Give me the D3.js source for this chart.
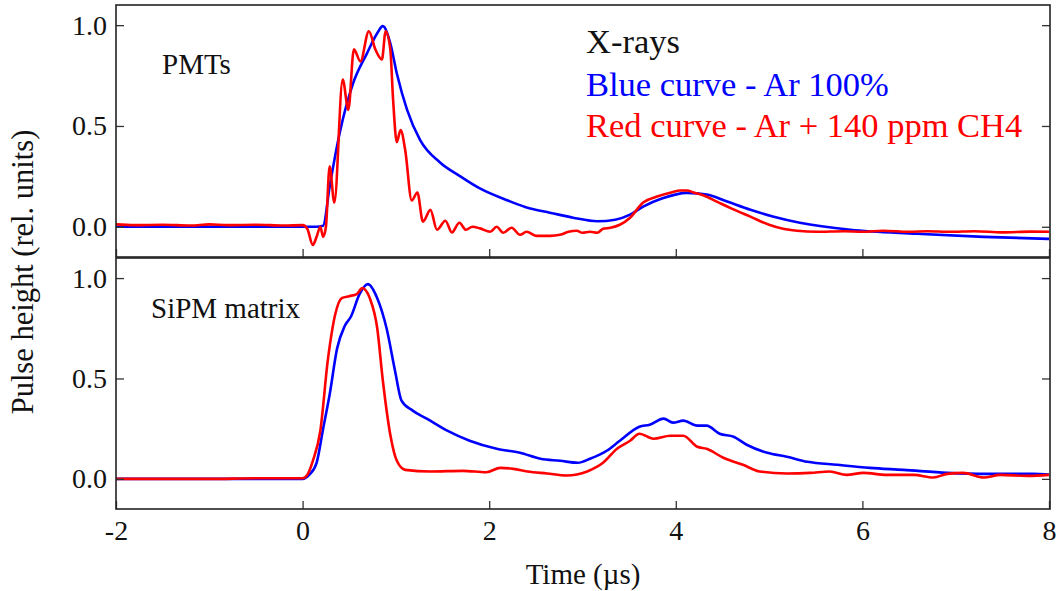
<!DOCTYPE html>
<html>
<head>
<meta charset="utf-8">
<script src="https://cdn.jsdelivr.net/npm/d3@7"></script>
</head>
<body style="margin:0;background:#fff">
<svg id="chart" width="1058" height="591"></svg>
<script>
// Pulse shapes, time in µs, height in relative units
const pmtBlue = [
  [-2,0],[-1,0],[0,0],[0.15,0],[0.22,0.005],[0.29,0.2],[0.40,0.47],[0.54,0.71],[0.69,0.86],
  [0.80,0.96],[0.86,0.995],[0.94,0.91],[1.01,0.76],[1.12,0.58],[1.26,0.43],[1.47,0.32],
  [1.69,0.25],[1.90,0.19],[2.2,0.13],[2.44,0.09],[2.65,0.07],[2.9,0.045],[3.16,0.027],
  [3.35,0.035],[3.51,0.06],[3.65,0.1],[3.85,0.14],[4.12,0.168],[4.33,0.16],[4.55,0.125],
  [4.8,0.084],[5.05,0.05],[5.33,0.02],[5.87,-0.015],[6.58,-0.035],[7.3,-0.05],[8,-0.06]
];
const pmtRed = [
  [-2,0.012],[-1.8,0.008],[-1.5,0.01],[-1.2,0.006],[-1,0.012],[-0.8,0.008],[-0.5,0.01],
  [-0.2,0.006],[0.0,0.008],[0.05,-0.01],[0.11,-0.09],[0.15,-0.05],[0.19,0.0],[0.22,-0.05],
  [0.25,0.0],[0.29,0.30],[0.34,0.12],[0.43,0.73],[0.49,0.58],[0.55,0.88],[0.62,0.82],
  [0.71,0.97],[0.78,0.88],[0.85,0.83],[0.89,0.97],[0.94,0.88],[0.97,0.63],[1.01,0.42],
  [1.05,0.48],[1.10,0.38],[1.17,0.13],[1.23,0.17],[1.29,0.025],[1.37,0.084],[1.44,-0.015],
  [1.53,0.03],[1.60,-0.028],[1.68,0.02],[1.75,-0.015],[1.82,0.0],[1.9,-0.008],[2.01,-0.025],
  [2.08,0.0],[2.15,-0.03],[2.24,-0.005],[2.33,-0.04],[2.40,-0.025],[2.51,-0.045],[2.65,-0.045],
  [2.76,-0.04],[2.85,-0.025],[2.94,-0.02],[3.0,-0.03],[3.08,-0.025],[3.16,-0.03],[3.22,-0.01],
  [3.3,-0.005],[3.4,0.01],[3.51,0.045],[3.65,0.12],[3.8,0.15],[3.95,0.17],[4.05,0.18],
  [4.12,0.18],[4.19,0.17],[4.3,0.155],[4.44,0.125],[4.6,0.09],[4.8,0.05],[5.0,0.01],
  [5.15,-0.01],[5.3,-0.02],[5.51,-0.025],[5.8,-0.022],[6.0,-0.025],[6.22,-0.02],[6.5,-0.025],
  [6.7,-0.022],[6.94,-0.025],[7.2,-0.022],[7.5,-0.028],[7.8,-0.024],[8.0,-0.025]
];
const sipmBlue = [
  [-2,0],[-1,0],[0,0],[0.07,0.02],[0.15,0.08],[0.22,0.25],[0.29,0.42],[0.37,0.65],[0.45,0.76],
  [0.52,0.81],[0.61,0.92],[0.70,0.97],[0.80,0.90],[0.90,0.75],[0.99,0.54],[1.06,0.39],
  [1.18,0.34],[1.33,0.30],[1.55,0.24],[1.79,0.19],[2.08,0.15],[2.33,0.13],[2.55,0.10],
  [2.76,0.09],[2.95,0.08],[3.08,0.10],[3.26,0.14],[3.40,0.19],[3.61,0.26],[3.72,0.27],
  [3.87,0.30],[3.97,0.28],[4.08,0.29],[4.23,0.265],[4.33,0.265],[4.47,0.225],[4.62,0.21],
  [4.76,0.17],[4.98,0.13],[5.19,0.11],[5.41,0.085],[5.73,0.07],[6.08,0.055],[6.44,0.045],
  [6.91,0.03],[7.34,0.025],[7.83,0.025],[8,0.022]
];
const sipmRed = [
  [-2,0],[-1,0],[-0.5,0.003],[0,0.003],[0.05,0.02],[0.11,0.09],[0.19,0.24],[0.27,0.59],
  [0.35,0.82],[0.42,0.90],[0.50,0.91],[0.58,0.92],[0.64,0.95],[0.72,0.90],[0.80,0.75],
  [0.86,0.49],[0.94,0.22],[1.01,0.09],[1.10,0.045],[1.37,0.037],[1.72,0.04],[1.97,0.033],
  [2.12,0.055],[2.26,0.05],[2.41,0.037],[2.62,0.027],[2.83,0.017],[3.05,0.037],[3.22,0.08],
  [3.37,0.15],[3.51,0.19],[3.61,0.225],[3.76,0.20],[3.94,0.215],[4.08,0.215],[4.23,0.16],
  [4.33,0.15],[4.51,0.105],[4.72,0.07],[4.90,0.037],[5.19,0.027],[5.44,0.03],[5.65,0.037],
  [5.83,0.02],[6.01,0.03],[6.26,0.02],[6.55,0.02],[6.76,0.007],[6.91,0.025],[7.08,0.03],
  [7.30,0.007],[7.48,0.02],[7.77,0.015],[8,0.02]
];

const xTicks = [-2, 0, 2, 4, 6, 8];
const yTicks = [0, 0.5, 1.0];
const legendLines = ["X-rays", "Blue curve - Ar 100%", "Red curve - Ar + 140 ppm CH4"];
const panelTitles = ["PMTs", "SiPM matrix"];
const xTitle = "Time (\u00b5s)";
const yTitle = "Pulse height (rel. units)";

const svg = d3.select("#chart");
const left = 116, right = 1050;
const panels = [
  { top: 5, bottom: 257, blue: pmtBlue, red: pmtRed, title: panelTitles[0], tx: 162, ty: 74, labels: false },
  { top: 258, bottom: 509, blue: sipmBlue, red: sipmRed, title: panelTitles[1], tx: 151, ty: 318, labels: true }
];

const x = d3.scaleLinear().domain([-2, 8]).range([left, right - 1]);

panels.forEach((p, i) => {
  const y = d3.scaleLinear().domain([-0.15, 1.1]).range([p.bottom, p.top]);
  const g = svg.append("g");

  g.append("clipPath").attr("id", "clip" + i)
    .append("rect").attr("x", left).attr("y", p.top).attr("width", right - left).attr("height", p.bottom - p.top);

  const line = d3.line().x(d => x(d[0])).y(d => y(d[1])).curve(d3.curveMonotoneX);
  const curves = g.append("g").attr("clip-path", `url(#clip${i})`);
  curves.append("path").datum(p.blue).attr("d", line)
    .attr("fill", "none").attr("stroke", "#0000ff").attr("stroke-width", 2.6).attr("stroke-linejoin", "round");
  curves.append("path").datum(p.red).attr("d", line)
    .attr("fill", "none").attr("stroke", "#ff0000").attr("stroke-width", 2.6).attr("stroke-linejoin", "round");

  // Inward ticks on the bottom, left and right edges of the frame
  const ax = (axis) => axis.tickSizeOuter(0).tickPadding(12);
  const bottomAxis = g.append("g").attr("transform", `translate(0,${p.bottom})`)
    .call(ax(d3.axisBottom(x).tickValues(xTicks).tickSizeInner(-8).tickFormat(p.labels ? d => d3.format("d")(d).replace("\u2212", "-") : "")));
  const leftAxis = g.append("g").attr("transform", `translate(${left},0)`)
    .call(ax(d3.axisLeft(y).tickValues(yTicks).tickSizeInner(-8).tickFormat(d3.format(".1f"))));
  const rightAxis = g.append("g").attr("transform", `translate(${right},0)`)
    .call(ax(d3.axisRight(y).tickValues(yTicks).tickSizeInner(-8).tickFormat("")));
  [bottomAxis, leftAxis, rightAxis].forEach(a => {
    a.select(".domain").remove();
    a.selectAll("line").attr("stroke", "#333").attr("stroke-width", 1.3);
    a.selectAll("text").style("font-size", "28px").attr("fill", "#111");
  });
  leftAxis.selectAll("text").attr("x", -9);
  bottomAxis.selectAll("text").attr("dy", "0.71em").attr("y", 11);

  g.append("rect").attr("x", left).attr("y", p.top).attr("width", right - left).attr("height", p.bottom - p.top)
    .attr("fill", "none").attr("stroke", "#222").attr("stroke-width", 1.6);

  g.append("text").attr("x", p.tx).attr("y", p.ty).style("font-size", "29px").attr("fill", "#111").text(p.title);
});

// Legend
const legendColors = ["#111", "#0000ff", "#ff0000"];
const legendY = [53, 96, 137];
svg.append("g").selectAll("text").data(legendLines).join("text")
  .attr("x", 586).attr("y", (d, i) => legendY[i])
  .style("font-size", "34.5px").attr("fill", (d, i) => legendColors[i]).text(d => d);

// Axis titles
svg.append("text").attr("x", 583).attr("y", 584).attr("text-anchor", "middle")
  .style("font-size", "29px").attr("fill", "#111").text(xTitle);
svg.append("text").attr("transform", "translate(33,272) rotate(-90)").attr("text-anchor", "middle")
  .style("font-size", "30.5px").attr("fill", "#111").text(yTitle);

// Times-like serif face for every label
svg.selectAll("text").style("font-family", "Liberation Serif");
</script>
</body>
</html>
